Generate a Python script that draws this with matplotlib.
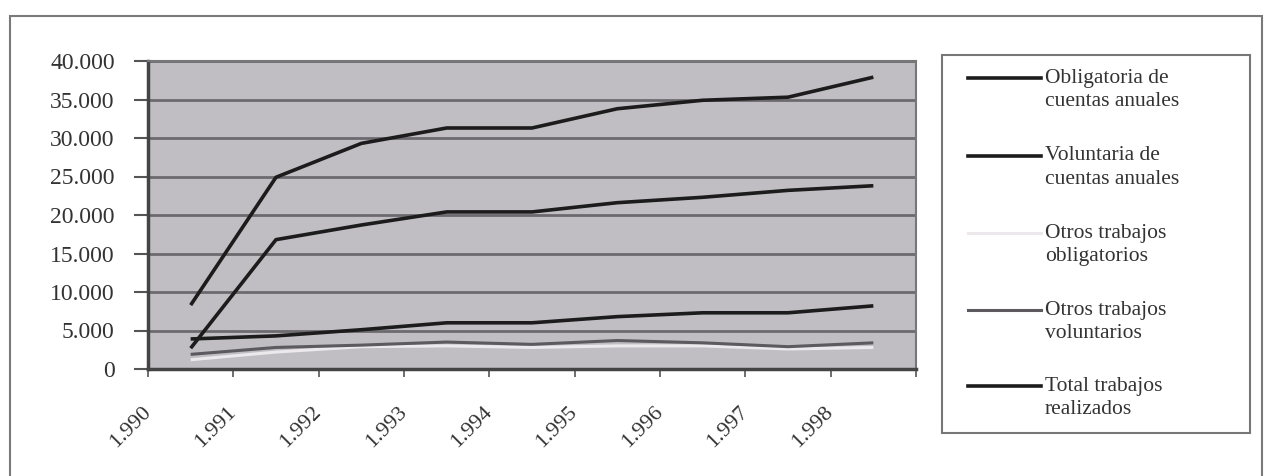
import matplotlib
matplotlib.use("Agg")
import matplotlib.pyplot as plt
from matplotlib.patches import Rectangle
from matplotlib.lines import Line2D

years = ["1.990", "1.991", "1.992", "1.993", "1.994", "1.995", "1.996", "1.997", "1.998"]
obligatoria = [8300, 24900, 29300, 31300, 31300, 33800, 34900, 35300, 37900]
voluntaria = [2700, 16800, 18700, 20400, 20400, 21600, 22300, 23200, 23800]
otros_oblig = [1200, 2200, 2900, 3000, 2800, 3000, 3000, 2600, 2800]
otros_vol = [1900, 2800, 3100, 3500, 3200, 3700, 3400, 2900, 3400]
total = [3900, 4300, 5100, 6000, 6000, 6800, 7300, 7300, 8200]
yticks = [0, 5000, 10000, 15000, 20000, 25000, 30000, 35000, 40000]
ytick_labels = ["0", "5.000", "10.000", "15.000", "20.000", "25.000", "30.000", "35.000", "40.000"]
labels = [("Obligatoria de", "cuentas anuales"),
          ("Voluntaria de", "cuentas anuales"),
          ("Otros trabajos", "obligatorios"),
          ("Otros trabajos", "voluntarios"),
          ("Total trabajos", "realizados")]

values = [obligatoria, voluntaria, otros_oblig, otros_vol, total]
colors = ["#1c1c1c", "#1c1c1c", "#ece8ec", "#5c5a5e", "#1c1c1c"]
widths = [2.6, 2.6, 2.2, 2.2, 2.6]

W, H = 1269, 476
fig = plt.figure(figsize=(W / 100, H / 100), dpi=100)
fig.patch.set_facecolor("white")

def fx(px):
    return px / W

def fy(py):
    return 1 - py / H

# outer frame
fig.patches.append(Rectangle((fx(10), -0.05), fx(1252), 1.05 - 16 / H,
                             transform=fig.transFigure, fill=False,
                             edgecolor="#7a7a7a", linewidth=1.5))

ax = fig.add_axes([fx(148), fy(369), fx(916 - 148), (369 - 61) / H])
ax.set_facecolor("#c0bec3")
x = list(range(len(years)))
for (l1, l2), vals, col, lw in zip(labels, values, colors, widths):
    ax.plot(x, vals, color=col, linewidth=lw, label=l1 + " " + l2,
            solid_capstyle="butt")

ax.set_xlim(-0.5, len(years) - 0.5)
ax.set_ylim(0, 40000)
ax.set_yticks(yticks)
ax.set_yticklabels(ytick_labels, fontfamily="Liberation Serif", fontsize=17, color="#333333")
ax.yaxis.grid(True, color="#6c6a6e", linewidth=2)
ax.set_axisbelow(True)
ax.tick_params(axis="y", length=10, width=1.5, color="#555555", pad=14)

ax.set_xticks([i - 0.5 for i in range(len(years) + 1)])
ax.set_xticklabels([])
ax.tick_params(axis="x", length=6, width=1.2, color="#555555")
for i, yl in enumerate(years):
    ax.text(i - 0.5, -40 / 308, yl, transform=ax.get_xaxis_transform(),
            rotation=45, rotation_mode="anchor", ha="right", va="center",
            fontfamily="Liberation Serif", fontsize=16, color="#333333")

for side in ["top", "right"]:
    ax.spines[side].set_color("#777777")
    ax.spines[side].set_linewidth(1.5)
for side in ["left", "bottom"]:
    ax.spines[side].set_color("#444444")
    ax.spines[side].set_linewidth(2.5)

# legend box (drawn by hand to match the scanned layout)
fig.patches.append(Rectangle((fx(942), fy(433)), fx(1250 - 942), (433 - 55) / H,
                             transform=fig.transFigure, fill=False,
                             edgecolor="#777777", linewidth=1.5))
row_y = [78, 156, 233, 310, 386]
for (l1, l2), col, lw, ry in zip(labels, colors, widths, row_y):
    fig.add_artist(Line2D([fx(968), fx(1041)], [fy(ry), fy(ry)],
                          transform=fig.transFigure, color=col, linewidth=lw))
    fig.text(fx(1045), fy(ry), l1, ha="left", va="center",
             fontfamily="Liberation Serif", fontsize=15.5, color="#333333")
    fig.text(fx(1045), fy(ry + 24), l2, ha="left", va="center",
             fontfamily="Liberation Serif", fontsize=15.5, color="#333333")

fig.savefig("out.png", dpi=100, facecolor="white")
